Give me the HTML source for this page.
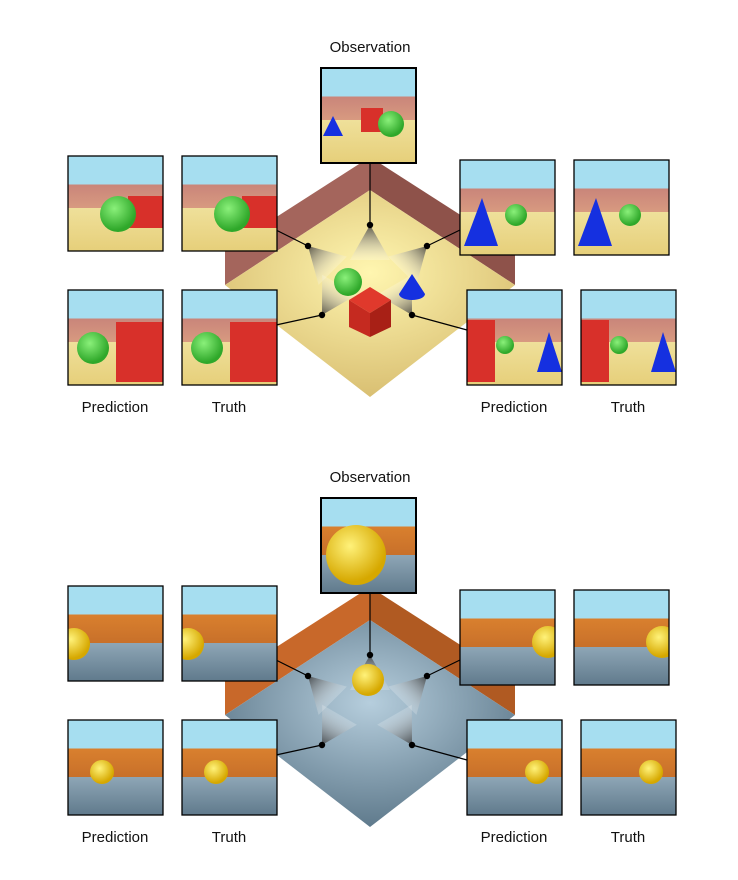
<!DOCTYPE html>
<html><head><meta charset="utf-8"><style>
body{margin:0;background:#fff;width:738px;height:880px;overflow:hidden}
svg{display:block}
text{font-family:"Liberation Sans",sans-serif;font-size:15px;fill:#111}
</style></head><body>
<svg id="fig" width="738" height="880" viewBox="0 0 738 880">
<defs>
<clipPath id="tclip"><rect x="0" y="0" width="95" height="95"/></clipPath>
<linearGradient id="beam" x1="0" y1="0" x2="0" y2="1"><stop offset="0" stop-color="#333" stop-opacity="0.8"/><stop offset="1" stop-color="#fff" stop-opacity="0.2"/></linearGradient>
<radialGradient id="floorA" cx="0.5" cy="0.4" r="0.6"><stop offset="0" stop-color="#fff6b0"/><stop offset="1" stop-color="#d9bf72"/></radialGradient>
<radialGradient id="floorB" cx="0.5" cy="0.4" r="0.6"><stop offset="0" stop-color="#b6cedd"/><stop offset="1" stop-color="#5f7a8c"/></radialGradient>
<radialGradient id="green" cx="0.4" cy="0.35" r="0.6"><stop offset="0" stop-color="#8af07a"/><stop offset="1" stop-color="#2fa82a"/></radialGradient>
<radialGradient id="yellow" cx="0.4" cy="0.35" r="0.6"><stop offset="0" stop-color="#fff27a"/><stop offset="1" stop-color="#d6a800"/></radialGradient>
<linearGradient id="skyA" x1="0" y1="0" x2="0" y2="1"><stop offset="0" stop-color="#a6def0"/><stop offset="0.3" stop-color="#a6def0"/><stop offset="0.3" stop-color="#c9857a"/><stop offset="0.55" stop-color="#d89a80"/><stop offset="0.55" stop-color="#efe09a"/><stop offset="1" stop-color="#e6cf7a"/></linearGradient>
<linearGradient id="skyB" x1="0" y1="0" x2="0" y2="1"><stop offset="0" stop-color="#a6def0"/><stop offset="0.3" stop-color="#a6def0"/><stop offset="0.3" stop-color="#d9802e"/><stop offset="0.6" stop-color="#c8702a"/><stop offset="0.6" stop-color="#8ea6b6"/><stop offset="1" stop-color="#607a8c"/></linearGradient>
</defs>
<g id="panels"></g>
</svg>
<script>
const NS='http://www.w3.org/2000/svg';
const root=document.getElementById('panels');
function mk(tag,attrs,parent){const e=document.createElementNS(NS,tag);for(const k in attrs)e.setAttribute(k,attrs[k]);(parent||root).appendChild(e);return e;}
const offsets=[0,430];
const themes=['A','B'];
offsets.forEach((dy,pi)=>{
  const g=mk('g',{transform:'translate(0,'+dy+')'});
  
  
  const A=themes[pi]==='A';
  const wallC=A?'#a4655c':'#c8682a', wallC2=A?'#8e524a':'#b05a22';
  const w1=mk('polygon',{points:'225,250 370,157 370,190 225,285',fill:wallC},g);
  
  const w2=mk('polygon',{points:'370,157 515,250 515,285 370,190',fill:wallC2},g);
  
  const fl=mk('polygon',{points:'370,190 515,285 370,397 225,285',fill:A?'url(#floorA)':'url(#floorB)'},g);
  
  [[370,225,0],[308,246,-45],[427,246,45],[322,315,-150],[412,315,150]].forEach(c=>{
    const b=mk('polygon',{points:'0,0 -20,35 20,35',fill:'url(#beam)',transform:'translate('+c[0]+','+c[1]+') rotate('+c[2]+')'},g);
    
  });
  if(A){
    const s=mk('circle',{cx:348,cy:282,r:14,fill:'url(#green)'},g);
    const cn=mk('path',{d:'M412,274 L399,294 A13,6 0 0 0 425,294 Z',fill:'#1530e0'},g);
    const c1=mk('polygon',{points:'370,287 391,300 370,313 349,300',fill:'#e0392c'},g);
    mk('polygon',{points:'349,300 370,313 370,337 349,327',fill:'#c52a20'},g);
    mk('polygon',{points:'391,300 370,313 370,337 391,327',fill:'#a82016'},g);
  } else {
    const s=mk('circle',{cx:368,cy:250,r:16,fill:'url(#yellow)'},g);
  }
  const thumbs=[[321,68,'observation'],[68,156,'left-prediction-1'],[182,156,'left-truth-1'],[68,290,'left-prediction-2'],[182,290,'left-truth-2'],[460,160,'right-prediction-1'],[574,160,'right-truth-1'],[467,290,'right-prediction-2'],[581,290,'right-truth-2']];
  const lines=[[370,162,370,225],[276,230,308,246],[460,230,427,246],[276,325,322,315],[467,330,412,315]];
  lines.forEach(l=>{const e=mk('line',{x1:l[0],y1:l[1],x2:l[2],y2:l[3],stroke:'#000','stroke-width':1.2},g);});
  [[370,225],[308,246],[427,246],[322,315],[412,315]].forEach(d=>{const e=mk('circle',{cx:d[0],cy:d[1],r:3.2,fill:'#000'},g);});
  thumbs.forEach((t,i)=>{
    const tg=mk('g',{transform:'translate('+t[0]+','+t[1]+')'},g);
    
    const cg=mk('g',{'clip-path':'url(#tclip)'},tg);
    mk('rect',{x:0,y:0,width:95,height:95,fill:A?'url(#skyA)':'url(#skyB)'},cg);
    if(A){
      if(i===0){mk('path',{d:'M12,48 L2,68 L22,68Z',fill:'#1530e0'},cg);mk('rect',{x:40,y:40,width:22,height:24,fill:'#d8302a'},cg);mk('circle',{cx:70,cy:56,r:13,fill:'url(#green)'},cg);}
      else if(i<=2){mk('rect',{x:60,y:40,width:35,height:32,fill:'#d8302a'},cg);mk('circle',{cx:50,cy:58,r:18,fill:'url(#green)'},cg);}
      else if(i<=4){mk('circle',{cx:25,cy:58,r:16,fill:'url(#green)'},cg);mk('rect',{x:48,y:32,width:47,height:60,fill:'#d8302a'},cg);}
      else if(i<=6){mk('path',{d:'M22,38 L4,86 L38,86Z',fill:'#1530e0'},cg);mk('circle',{cx:56,cy:55,r:11,fill:'url(#green)'},cg);}
      else {mk('rect',{x:0,y:30,width:28,height:62,fill:'#d8302a'},cg);mk('circle',{cx:38,cy:55,r:9,fill:'url(#green)'},cg);mk('path',{d:'M82,42 L70,82 L95,82Z',fill:'#1530e0'},cg);}
    } else {
      if(i===0){mk('circle',{cx:35,cy:57,r:30,fill:'url(#yellow)'},cg);}
      else if(i<=2){mk('circle',{cx:6,cy:58,r:16,fill:'url(#yellow)'},cg);}
      else if(i<=4){mk('circle',{cx:34,cy:52,r:12,fill:'url(#yellow)'},cg);}
      else if(i<=6){mk('circle',{cx:88,cy:52,r:16,fill:'url(#yellow)'},cg);}
      else {mk('circle',{cx:70,cy:52,r:12,fill:'url(#yellow)'},cg);}
    }
    mk('rect',{x:0,y:0,width:95,height:95,fill:'none',stroke:'#000','stroke-width':i===0?2:1.3},tg);
  });
  const labels=[[370,52,'Observation'],[115,412,'Prediction'],[229,412,'Truth'],[514,412,'Prediction'],[628,412,'Truth']];
  labels.forEach(l=>{const e=mk('text',{x:l[0],y:l[1],'text-anchor':'middle'},g);e.textContent=l[2];});
});
</script>
</body></html>
